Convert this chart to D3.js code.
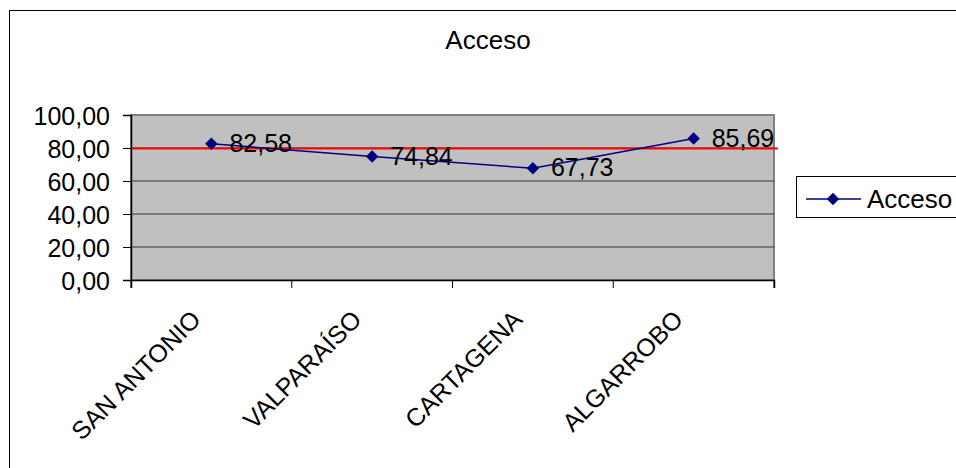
<!DOCTYPE html>
<html>
<head>
<meta charset="utf-8">
<script src="https://cdn.jsdelivr.net/npm/d3@7"></script>
<style>
  html, body { margin: 0; padding: 0; background: #fff; }
  svg { display: block; font-family: "Liberation Sans", Arial, sans-serif; }
</style>
</head>
<body>
<svg id="chart" width="956" height="468"></svg>
<script>
const categories = ["SAN ANTONIO", "VALPARAÍSO", "CARTAGENA", "ALGARROBO"];
const values = [82.58, 74.84, 67.73, 85.69];
const yTicks = [0, 20, 40, 60, 80, 100];
const referenceValue = 80;
const seriesName = "Acceso";
const chartTitle = "Acceso";

(function () {
const svg = d3.select("#chart");
const fmt = v => d3.format(".2f")(v).replace(".", ",");

// outer frame
svg.append("rect").attr("x", 9.5).attr("y", 10.5).attr("width", 1000).attr("height", 500)
  .attr("fill", "#fff").attr("stroke", "#000").attr("stroke-width", 1);

const pL = 131, pR = 774, pT = 115, pB = 280;
const x = d3.scaleBand().domain(categories).range([pL, pR]).padding(0);
const y = d3.scaleLinear().domain([0, 100]).range([pB, pT]);

// plot area
svg.append("rect").attr("x", pL).attr("y", pT).attr("width", pR - pL).attr("height", pB - pT)
  .attr("fill", "#c0c0c0").attr("stroke", "#808080").attr("stroke-width", 2);

// gridlines
svg.append("g").selectAll("line").data(yTicks.filter(t => t > 0 && t < 100)).join("line")
  .attr("x1", pL).attr("x2", pR).attr("y1", d => y(d)).attr("y2", d => y(d))
  .attr("stroke", "#333").attr("stroke-width", 1);

// y axis
const yAxis = svg.append("g").attr("transform", `translate(${pL},0)`)
  .call(d3.axisLeft(y).tickValues(yTicks).tickSize(8).tickFormat(fmt));
yAxis.select(".domain").attr("stroke", "#000").attr("stroke-width", 1.5);
yAxis.selectAll(".tick line").attr("stroke", "#000");
yAxis.selectAll(".tick text").attr("font-size", 25).attr("fill", "#000")
  .attr("font-family", "Liberation Sans, Arial, sans-serif").attr("x", -21).attr("dy", "0.36em");

// x axis
const xAxis = svg.append("g").attr("transform", `translate(0,${pB})`)
  .call(d3.axisBottom(x).tickSize(8).tickFormat(""));
xAxis.select(".domain").attr("stroke", "#000").attr("stroke-width", 1.5);
xAxis.selectAll(".tick").remove();
const bounds = [pL].concat(categories.map(c => x(c) + x.bandwidth()));
xAxis.selectAll("line.b").data(bounds).join("line").attr("class", "b")
  .attr("x1", d => d).attr("x2", d => d).attr("y1", 0).attr("y2", 8).attr("stroke", "#000");

// x labels
svg.append("g").selectAll("text").data(categories).join("text")
  .attr("transform", d => `translate(${x(d) + x.bandwidth() / 2 - 9},${pB + 41}) rotate(-45)`)
  .attr("text-anchor", "end").attr("font-size", 25).attr("fill", "#000").text(d => d);

// reference line
svg.append("line").attr("x1", pL + 1).attr("x2", pR + 4)
  .attr("y1", y(referenceValue) + 0.5).attr("y2", y(referenceValue) + 0.5)
  .attr("stroke", "#ff0000").attr("stroke-width", 2.2);

// series line
const cx = (d, i) => x(categories[i]) + x.bandwidth() / 2;
const line = d3.line().x((d, i) => cx(d, i)).y(d => y(d));
svg.append("path").datum(values).attr("d", line).attr("fill", "none")
  .attr("stroke", "#000080").attr("stroke-width", 1.5);

const diamond = d3.symbol().type(d3.symbolSquare).size(78);
svg.append("g").selectAll("path").data(values).join("path")
  .attr("d", diamond).attr("fill", "#000080")
  .attr("transform", (d, i) => `translate(${cx(d, i)},${y(d)}) rotate(45)`);

// data labels
svg.append("g").selectAll("text").data(values).join("text")
  .attr("x", (d, i) => cx(d, i) + 18).attr("y", d => y(d) + 8)
  .attr("font-size", 25).attr("fill", "#000").text(d => fmt(d));

// title
svg.append("text").attr("x", 488).attr("y", 49).attr("text-anchor", "middle")
  .attr("font-size", 26).attr("fill", "#000").text(chartTitle);

// legend
const lg = svg.append("g");
lg.append("rect").attr("x", 796.5).attr("y", 176.5).attr("width", 200).attr("height", 41)
  .attr("fill", "#fff").attr("stroke", "#000").attr("stroke-width", 1);
lg.append("line").attr("x1", 806).attr("x2", 861).attr("y1", 199).attr("y2", 199)
  .attr("stroke", "#000080").attr("stroke-width", 1.5);
lg.append("path").attr("d", diamond).attr("fill", "#000080").attr("transform", "translate(833,199) rotate(45)");
lg.append("text").attr("x", 867).attr("y", 208).attr("font-size", 26).attr("fill", "#000").text(seriesName);
})();
</script>
</body>
</html>
